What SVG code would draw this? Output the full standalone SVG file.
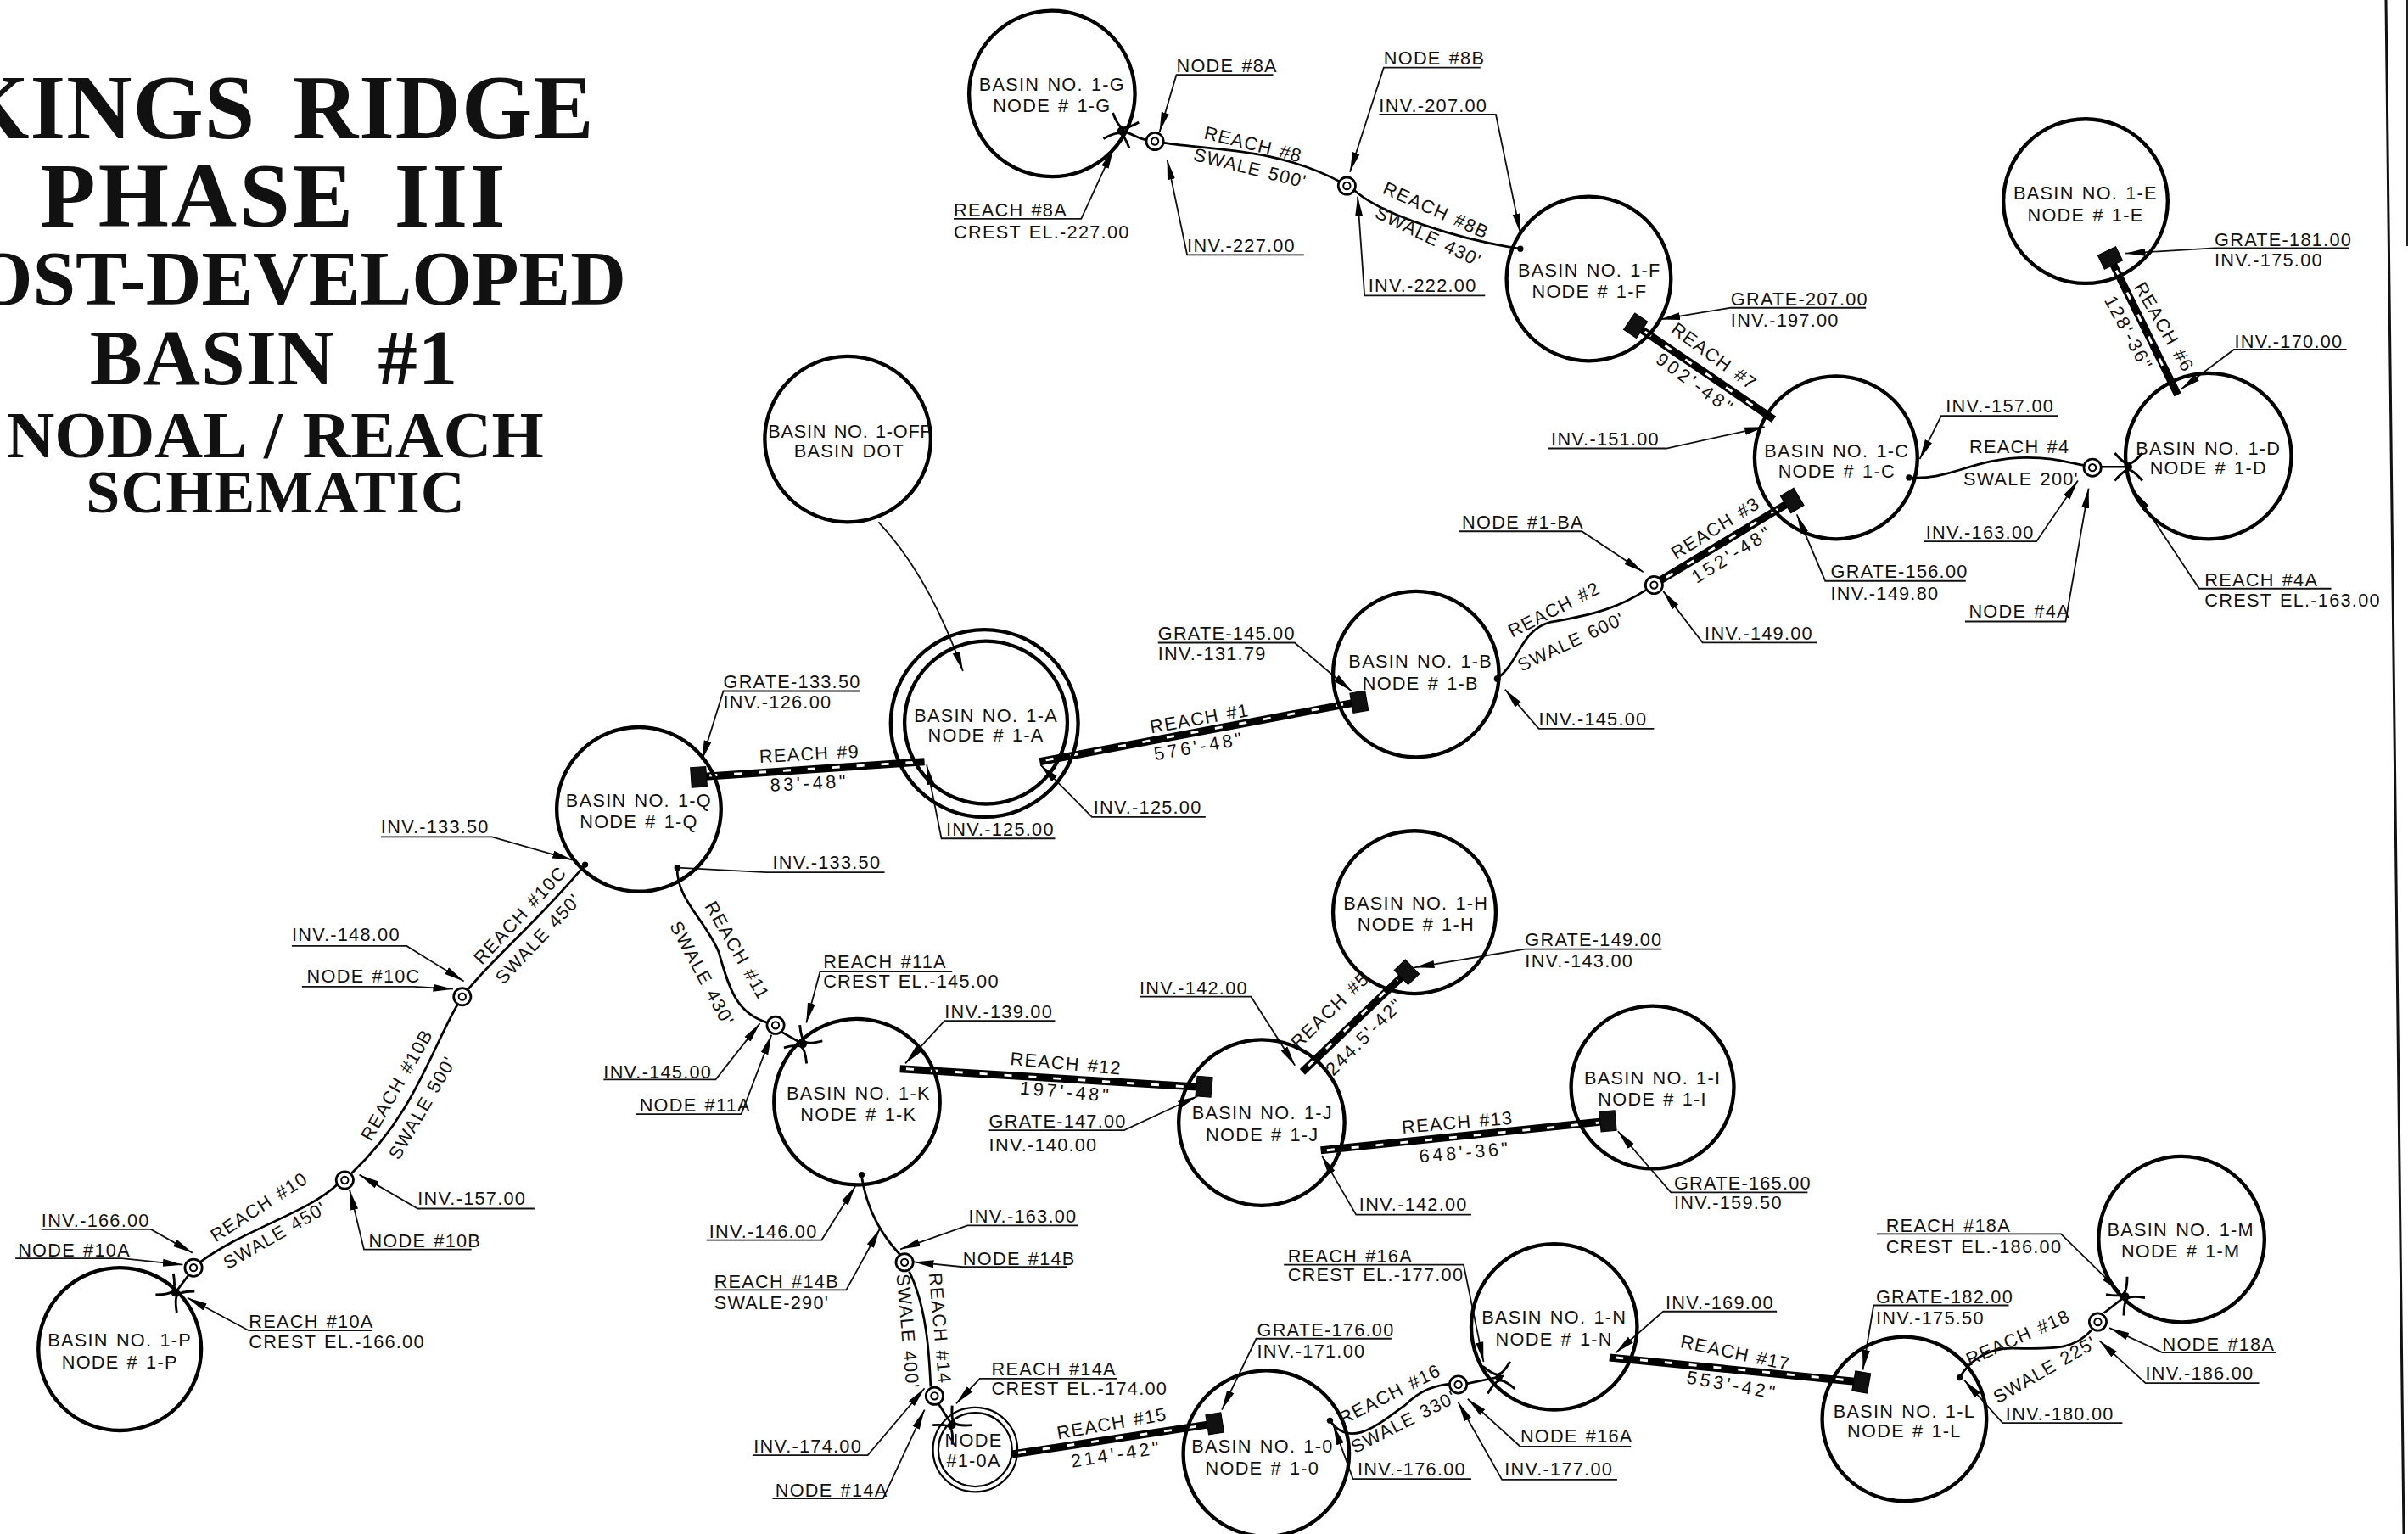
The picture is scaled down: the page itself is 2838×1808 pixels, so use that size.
<svg xmlns="http://www.w3.org/2000/svg" width="2838" height="1808" viewBox="0 0 2838 1808">
<style>
text{font-family:"Liberation Sans",Arial,sans-serif;fill:#111;font-size:12px;letter-spacing:.7px;word-spacing:1px}
.c{text-anchor:middle}
.w{letter-spacing:2px}
.ti{font-family:"Liberation Serif","Times New Roman",serif;font-weight:700;text-anchor:middle;letter-spacing:0}
.b{fill:none;stroke:#000;stroke-width:2.4}
.s{fill:none;stroke:#000;stroke-width:1.5}
.l{fill:none;stroke:#111;stroke-width:1;marker-end:url(#ah)}
.u{fill:none;stroke:#111;stroke-width:1}
.p{fill:none;stroke:#000;stroke-width:5}
.pd{fill:none;stroke:#fff;stroke-width:1.6;stroke-dasharray:5 11}
.g{fill:#111;stroke:#000;stroke-width:.6}
.n{fill:#fff;stroke:#000;stroke-width:1.5}
.d{fill:#000}
</style>
<defs>
<marker id="ah" markerUnits="userSpaceOnUse" markerWidth="14" markerHeight="7" refX="13" refY="3.5" orient="auto"><path d="M0,1 L13,3.5 L0,6 Z" fill="#000"/></marker>
<g id="weir"><path d="M-9,-9 Q-3,-2 0,-2 Q3,-2 9,-9 M-9,9 Q-3,2 0,2 Q3,2 9,9" fill="none" stroke="#000" stroke-width="1.6"/><circle r="2.4" fill="#000"/></g>
<g id="mn"><circle r="5.6" class="n"/><circle r="2.3" fill="#fff" stroke="#000" stroke-width="1.1"/></g>
<rect id="grate" x="-5" y="-6.5" width="10" height="13" class="g"/>
</defs>
<rect width="2838" height="1808" fill="#fff"/>
<g id="title">
<text class="ti" x="326" y="163" style="font-size:107px;word-spacing:16px;letter-spacing:1px">KINGS RIDGE</text>
<text class="ti" x="323" y="267" style="font-size:107px;word-spacing:16px;letter-spacing:3px">PHASE III</text>
<text class="ti" x="738" y="359" style="font-size:91px;word-spacing:0;text-anchor:end">POST-DEVELOPED</text>
<text class="ti" x="323" y="453" style="font-size:93px;word-spacing:26px;letter-spacing:1px">BASIN #1</text>
<text class="ti" x="324" y="539" style="font-size:78.7px;word-spacing:4px">NODAL / REACH</text>
<text class="ti" x="325" y="604" style="font-size:72px;word-spacing:0;letter-spacing:1px">SCHEMATIC</text>
</g>
<g transform="scale(1.81)">
<g id="connectors">
<path class="s" d="M730,85 C738,87 742,91 747,91"/>
<path class="s" d="M758,93 C790,98 830,96 872,118"/>
<path class="s" d="M882,124 C900,140 950,156 990,162"/>
<path class="s" d="M1243,311 C1270,313 1285,298 1320,298 C1338,298 1345,301 1357,303"/>
<path class="s" d="M1368,304 L1386,304"/>
<path class="s" d="M975,442 C990,430 990,410 1010,405 C1040,400 1055,395 1072,384"/>
<path class="s" d="M441,565 C440,585 460,600 468,620 C475,645 480,660 500,666"/>
<path class="s" d="M509,672 L523,680"/>
<path class="s" d="M381,563 C350,600 325,620 305,644"/>
<path class="s" d="M298,654 C280,685 270,725 229,764"/>
<path class="s" d="M220,771 C200,790 160,800 130,822"/>
<path class="s" d="M123,830 L114,842"/>
<path class="s" d="M561,766 C565,790 575,805 586,817"/>
<path class="s" d="M592,828 C603,850 605,880 606,903"/>
<path class="s" d="M611,914 L620,928"/>
<path class="s" d="M866,925 C880,945 900,925 915,915 C925,905 935,902 945,901"/>
<path class="s" d="M955,901 L979,896"/>
<path class="s" d="M1276,897 C1283,885 1295,878 1310,878 C1335,878 1350,880 1362,866"/>
<path class="s" d="M1370,855 L1384,844"/>
<path class="p" d="M1065,212 L1155,273"/><path class="pd" d="M1071,216 L1150,270"/>
<path class="p" d="M1081,378 L1167,326"/><path class="pd" d="M1085,376 L1160,330"/>
<path class="p" d="M1374,168 L1418,257"/><path class="pd" d="M1378,176 L1414,250"/>
<path class="p" d="M677,496 L885,457"/><path class="pd" d="M681,495 L878,458"/>
<path class="p" d="M455,506 L602,496"/><path class="pd" d="M462,505 L600,496"/>
<path class="p" d="M586,696 L784,708"/><path class="pd" d="M590,696 L778,708"/>
<path class="p" d="M848,698 L916,633"/><path class="pd" d="M852,694 L910,638"/>
<path class="p" d="M860,749 L1047,730"/><path class="pd" d="M864,749 L1041,731"/>
<path class="p" d="M659,947 L791,927"/><path class="pd" d="M663,946 L785,928"/>
<path class="p" d="M1048,884 L1212,900"/><path class="pd" d="M1052,884 L1206,899"/>
<path class="l" d="M829,48.7 L766,48.7 L755,86"/>
<path class="l" d="M964,44 L901,44 L879,112"/>
<path class="l" d="M898,74.5 L974,74.5 L990,152"/>
<path class="l" d="M621,142.5 L704,142.5 L725,97"/>
<path class="l" d="M849,166 L773,166 L760,104"/>
<path class="l" d="M967,192.5 L888.5,192.5 L884,128"/>
<path class="l" d="M1215,200.4 L1127,200.4 L1081,208"/>
<path class="l" d="M1008,292 L1085,292 L1149,278"/>
<path class="l" d="M1340,270.8 L1264,270.8 L1250,299"/>
<path class="l" d="M1253,352.6 L1326,352.6 L1353,313"/>
<path class="l" d="M1279.5,404.7 L1345,404.7 L1360,318"/>
<path class="l" d="M1280,378.3 L1188.5,378.3 L1170,335"/>
<path class="l" d="M1183,418.4 L1108.6,418.4 L1083,385"/>
<path class="l" d="M950,346 L1030,346 L1070,372.5"/>
<path class="l" d="M1529.5,161.5 L1442,161.5 L1384,165"/>
<path class="l" d="M1528,227.6 L1454.6,227.6 L1420,253.6"/>
<path class="l" d="M1518,383.3 L1432,383.3 L1390,320"/>
<path class="l" d="M754,418.5 L843,418.5 L880,450"/>
<path class="l" d="M785,532 L711,532 L677.5,498"/>
<path class="l" d="M687,546 L613,546 L603.4,498"/>
<path class="l" d="M560,450 L471,450 L457,495"/>
<path class="u" d="M576,568 L499,568 L441,565"/>
<path class="l" d="M572,340 Q605,375 627,437"/>
<path class="l" d="M248,545 L320.3,545 L372.7,560"/>
<path class="l" d="M190,616 L264.8,616 L302,639"/>
<path class="l" d="M196.6,642.5 L269.6,642.5 L295,644"/>
<path class="l" d="M348,787 L272,787 L234,765"/>
<path class="l" d="M307,813.6 L237,813.6 L227.7,775"/>
<path class="l" d="M27,800.5 L98.3,800.5 L125.3,815.8"/>
<path class="l" d="M10,819.4 L79.3,819.4 L119,823.6"/>
<path class="l" d="M242.6,866.4 L162,866.4 L122,845"/>
<path class="l" d="M393,703 L466,703 L494.8,666.4"/>
<path class="l" d="M414,725.5 L482.7,725.5 L502.4,673.8"/>
<path class="l" d="M620,632.6 L534,632.6 L525,666"/>
<path class="l" d="M687,664.7 L615,664.7 L589.5,692.5"/>
<path class="l" d="M742,649 L814.6,649 L843.2,693.8"/>
<path class="l" d="M644,736 L732,736 L779.7,713.8"/>
<path class="l" d="M958,791 L883,791 L860.6,752.4"/>
<path class="l" d="M460,807.5 L535,807.5 L557,772.4"/>
<path class="l" d="M702,798 L630,798 L586.2,813.5"/>
<path class="l" d="M695,825 L627,825 L595,821.8"/>
<path class="l" d="M465,840 L551,840 L573,800"/>
<path class="l" d="M727.5,897.7 L638,897.7 L622.6,914"/>
<path class="l" d="M490,947.6 L565,947.6 L602,904"/>
<path class="l" d="M503,975.7 L575,975.7 L602,918"/>
<path class="l" d="M906,871.7 L818,871.7 L795.6,918"/>
<path class="l" d="M836,823.5 L953,823.5 L966,886.8"/>
<path class="l" d="M958,963 L881,963 L868.2,928"/>
<path class="l" d="M1062,942 L990,942 L955.7,910.9"/>
<path class="l" d="M1053,963.5 L978,963.5 L949.4,913"/>
<path class="l" d="M1157,854 L1083,854 L1052,881"/>
<path class="l" d="M1308,850 L1220,850 L1213,892"/>
<path class="l" d="M1222,803.5 L1342,803.5 L1380,840.8"/>
<path class="l" d="M1482,880.7 L1408,880.7 L1373.5,864.7"/>
<path class="l" d="M1471,900.6 L1397,900.6 L1367,873"/>
<path class="l" d="M1382,926.6 L1304,926.6 L1279,898.7"/>
<path class="l" d="M1177,776.4 L1088,776.4 L1053.5,736.6"/>
<path class="l" d="M1082,618 L993,618 L921,630"/>
<path class="l" d="M1077,474.5 L1002,474.5 L980,449"/>
<use href="#mn" x="752" y="92"/><use href="#mn" x="877" y="121"/><use href="#mn" x="1362.5" y="304.5"/>
<use href="#mn" x="1077" y="381"/><use href="#mn" x="301" y="649"/><use href="#mn" x="224.5" y="768.5"/>
<use href="#mn" x="126" y="825.5"/><use href="#mn" x="505" y="667.6"/><use href="#mn" x="589" y="822"/>
<use href="#mn" x="608.5" y="909"/><use href="#mn" x="949.5" y="901.6"/><use href="#mn" x="1366" y="860.8"/>
<circle class="d" cx="990" cy="162" r="2"/><circle class="d" cx="1243" cy="311" r="2"/><circle class="d" cx="975" cy="442" r="2.2"/>
<circle class="d" cx="441" cy="565" r="2"/><circle class="d" cx="381" cy="563" r="2"/><circle class="d" cx="561" cy="765" r="2"/>
<circle class="d" cx="866" cy="925" r="2"/><circle class="d" cx="1276" cy="897" r="2"/>
<use href="#weir" transform="translate(730,85) rotate(20)"/>
<use href="#weir" transform="translate(1386,304)"/>
<use href="#weir" transform="translate(114,842) rotate(-50)"/>
<use href="#weir" transform="translate(523,680) rotate(35)"/>
<use href="#weir" transform="translate(620,928) rotate(45)"/>
<use href="#weir" transform="translate(976,897) rotate(-10)"/>
<use href="#weir" transform="translate(1384,844) rotate(-40)"/>
</g>
<g id="basin-1-G"><circle class="b" cx="685" cy="61" r="54"/><text class="c" x="685" y="59">BASIN NO. 1-G</text><text class="c" x="685" y="73">NODE # 1-G</text></g>
<g id="basin-1-F"><circle class="b" cx="1034.5" cy="181.5" r="53.5"/><text class="c" x="1035" y="180">BASIN NO. 1-F</text><text class="c" x="1035" y="194">NODE # 1-F</text><use href="#grate" transform="translate(1065,212) rotate(34)"/></g>
<g id="basin-1-C"><circle class="b" cx="1195.5" cy="298" r="53"/><text class="c" x="1196" y="298">BASIN NO. 1-C</text><text class="c" x="1196" y="311">NODE # 1-C</text><use href="#grate" transform="translate(1167,326) rotate(-31)"/></g>
<g id="basin-1-E"><circle class="b" cx="1358" cy="131" r="53.5"/><text class="c" x="1358" y="130">BASIN NO. 1-E</text><text class="c" x="1358" y="144">NODE # 1-E</text><use href="#grate" transform="translate(1374,168) rotate(64)"/></g>
<g id="basin-1-D"><circle class="b" cx="1438" cy="297" r="54"/><text class="c" x="1438" y="296">BASIN NO. 1-D</text><text class="c" x="1438" y="309">NODE # 1-D</text></g>
<g id="basin-1-B"><circle class="b" cx="922" cy="439" r="54"/><text class="c" x="925" y="435">BASIN NO. 1-B</text><text class="c" x="925" y="449">NODE # 1-B</text><use href="#grate" transform="translate(885,457) rotate(-10)"/></g>
<g id="basin-1-A"><circle class="b" cx="641" cy="471" r="61"/><circle class="b" cx="642" cy="470.5" r="53"/><text class="c" x="642" y="470">BASIN NO. 1-A</text><text class="c" x="642" y="483">NODE # 1-A</text></g>
<g id="basin-1-OFF"><circle class="b" cx="552" cy="286" r="54"/><text class="c" x="553.5" y="285" style="letter-spacing:.4px">BASIN NO. 1-OFF</text><text class="c" x="553" y="298">BASIN DOT</text></g>
<g id="basin-1-Q"><circle class="b" cx="416" cy="527" r="53.5"/><text class="c" x="416" y="525.5">BASIN NO. 1-Q</text><text class="c" x="416" y="539.5">NODE # 1-Q</text><use href="#grate" transform="translate(455,506) rotate(-4)"/></g>
<g id="basin-1-H"><circle class="b" cx="921" cy="594" r="53"/><text class="c" x="922" y="592">BASIN NO. 1-H</text><text class="c" x="922" y="606">NODE # 1-H</text><use href="#grate" transform="translate(916,633) rotate(-44)"/></g>
<g id="basin-1-I"><circle class="b" cx="1076" cy="708" r="53"/><text class="c" x="1076" y="706">BASIN NO. 1-I</text><text class="c" x="1076" y="720">NODE # 1-I</text><use href="#grate" transform="translate(1047,730) rotate(-5)"/></g>
<g id="basin-1-K"><circle class="b" cx="558" cy="717.5" r="54"/><text class="c" x="559" y="716">BASIN NO. 1-K</text><text class="c" x="559" y="730">NODE # 1-K</text></g>
<g id="basin-1-J"><circle class="b" cx="821.5" cy="731" r="54"/><text class="c" x="822" y="729">BASIN NO. 1-J</text><text class="c" x="822" y="743">NODE # 1-J</text><use href="#grate" transform="translate(784,707.6) rotate(5)"/></g>
<g id="basin-1-O"><circle class="b" cx="824.5" cy="946.5" r="54"/><text class="c" x="822" y="946">BASIN NO. 1-0</text><text class="c" x="822" y="960">NODE # 1-0</text><use href="#grate" transform="translate(791,927) rotate(-9)"/></g>
<g id="basin-1-0A"><circle class="b" style="stroke-width:1.2" cx="635" cy="944" r="27.5"/><circle class="b" style="stroke-width:1.2" cx="635" cy="944" r="24"/><text class="c" x="634" y="942">NODE</text><text class="c" x="634" y="955">#1-0A</text></g>
<g id="basin-1-N"><circle class="b" cx="1012" cy="864" r="54"/><text class="c" x="1012" y="862">BASIN NO. 1-N</text><text class="c" x="1012" y="876">NODE # 1-N</text></g>
<g id="basin-1-L"><circle class="b" cx="1240" cy="924" r="53.5"/><text class="c" x="1240" y="923">BASIN NO. 1-L</text><text class="c" x="1240" y="936">NODE # 1-L</text><use href="#grate" transform="translate(1212,900) rotate(10)"/></g>
<g id="basin-1-M"><circle class="b" cx="1420.5" cy="807" r="54"/><text class="c" x="1420" y="805">BASIN NO. 1-M</text><text class="c" x="1420" y="819">NODE # 1-M</text></g>
<g id="basin-1-P"><circle class="b" cx="78" cy="878.5" r="53"/><text class="c" x="78" y="877">BASIN NO. 1-P</text><text class="c" x="78" y="891">NODE # 1-P</text></g>
<g id="reach-labels">
<text class="c" y="4" transform="translate(816,94) rotate(14)">REACH #8</text>
<text class="c" y="4" transform="translate(814,109.5) rotate(14)">SWALE 500'</text>
<text class="c" y="4" transform="translate(935,137) rotate(24)">REACH #8B</text>
<text class="c" y="4" transform="translate(930,154) rotate(26)">SWALE 430'</text>
<text class="c" y="4" transform="translate(1116,232) rotate(36)">REACH #7</text>
<text class="c w" y="4" transform="translate(1104,250) rotate(36)">902'-48"</text>
<text class="c" y="4" transform="translate(1117,344) rotate(-32)">REACH #3</text>
<text class="c w" y="4" transform="translate(1128,361) rotate(-32)">152'-48"</text>
<text class="c" y="4" transform="translate(1012,397) rotate(-27)">REACH #2</text>
<text class="c" y="4" transform="translate(1023,418) rotate(-25)">SWALE 600'</text>
<text class="c" y="4" transform="translate(1315,291)">REACH #4</text>
<text class="c" y="4" transform="translate(1316,312)">SWALE 200'</text>
<text class="c" y="4" transform="translate(1409,213) rotate(60)">REACH #6</text>
<text class="c" y="4" transform="translate(1386,217) rotate(62)" style="letter-spacing:1.2px">128'-36"</text>
<text class="c" y="4" transform="translate(781,468) rotate(-10)">REACH #1</text>
<text class="c w" y="4" transform="translate(781,486) rotate(-10)">576'-48"</text>
<text class="c" y="4" transform="translate(527,491) rotate(-3)">REACH #9</text>
<text class="c w" y="4" transform="translate(527,510) rotate(-3)">83'-48"</text>
<text class="c" y="4" transform="translate(338.7,596) rotate(-47)">REACH #10C</text>
<text class="c" y="4" transform="translate(350.5,611.4) rotate(-47)">SWALE 450'</text>
<text class="c" y="4" transform="translate(258.5,706.5) rotate(-60)">REACH #10B</text>
<text class="c" y="4" transform="translate(275,721.4) rotate(-60)">SWALE 500'</text>
<text class="c" y="4" transform="translate(168.7,786) rotate(-33)">REACH #10</text>
<text class="c" y="4" transform="translate(179,804.5) rotate(-30)">SWALE 450'</text>
<text class="c" y="4" transform="translate(480,619) rotate(60)">REACH #11</text>
<text class="c" y="4" transform="translate(457,634) rotate(62)">SWALE 430'</text>
<text class="c" y="4" transform="translate(694,692.6) rotate(5)">REACH #12</text>
<text class="c w" y="4" transform="translate(694,711) rotate(5)">197'-48"</text>
<text class="c" y="4" transform="translate(866,658) rotate(-44)">REACH #5</text>
<text class="c w" y="4" transform="translate(888.5,675) rotate(-45)" style="letter-spacing:1.2px">244.5'-42"</text>
<text class="c" y="4" transform="translate(949,731) rotate(-5)">REACH #13</text>
<text class="c w" y="4" transform="translate(954,750.4) rotate(-5)">648'-36"</text>
<text class="c" y="4" transform="translate(724,927) rotate(-10)">REACH #15</text>
<text class="c w" y="4" transform="translate(727,947) rotate(-9)">214'-42"</text>
<text class="c" y="4" transform="translate(612,865) rotate(85)">REACH #14</text>
<text class="c" y="4" transform="translate(591,867) rotate(85)">SWALE 400'</text>
<text class="c" y="4" transform="translate(905,908) rotate(-27)">REACH #16</text>
<text class="c" y="4" transform="translate(914,926) rotate(-27)">SWALE 330'</text>
<text class="c" y="4" transform="translate(1130,881) rotate(12)">REACH #17</text>
<text class="c w" y="4" transform="translate(1128,902) rotate(10)">553'-42"</text>
<text class="c" y="4" transform="translate(1314,871) rotate(-24)">REACH #18</text>
<text class="c" y="4" transform="translate(1331.5,892) rotate(-30)">SWALE 225'</text>
</g>
<g id="callouts">
<text x="766" y="47">NODE #8A</text>
<text x="901" y="42">NODE #8B</text>
<text x="898" y="73">INV.-207.00</text>
<text x="621" y="141">REACH #8A</text>
<text x="621" y="155">CREST EL.-227.00</text>
<text x="773" y="164">INV.-227.00</text>
<text x="891" y="190">INV.-222.00</text>
<text x="1127" y="199">GRATE-207.00</text>
<text x="1127" y="212.5">INV.-197.00</text>
<text x="1010" y="290">INV.-151.00</text>
<text x="1267" y="268.5">INV.-157.00</text>
<text x="1254" y="351">INV.-163.00</text>
<text x="1282" y="402">NODE #4A</text>
<text x="1192" y="376.5">GRATE-156.00</text>
<text x="1192" y="390.5">INV.-149.80</text>
<text x="1110" y="416.7">INV.-149.00</text>
<text x="952" y="344">NODE #1-BA</text>
<text x="1442" y="160">GRATE-181.00</text>
<text x="1442" y="173.5">INV.-175.00</text>
<text x="1455" y="226.5">INV.-170.00</text>
<text x="1435.5" y="382">REACH #4A</text>
<text x="1435.5" y="395">CREST EL.-163.00</text>
<text x="754" y="416.6">GRATE-145.00</text>
<text x="754" y="430">INV.-131.79</text>
<text x="712" y="530">INV.-125.00</text>
<text x="616" y="544">INV.-125.00</text>
<text x="471" y="448">GRATE-133.50</text>
<text x="471" y="461.5">INV.-126.00</text>
<text x="503" y="566">INV.-133.50</text>
<text x="248" y="542.5">INV.-133.50</text>
<text x="190" y="612.5">INV.-148.00</text>
<text x="199.8" y="640">NODE #10C</text>
<text x="272" y="784.5">INV.-157.00</text>
<text x="240" y="812">NODE #10B</text>
<text x="27" y="799">INV.-166.00</text>
<text x="11.7" y="818">NODE #10A</text>
<text x="162" y="864.5">REACH #10A</text>
<text x="162" y="878">CREST EL.-166.00</text>
<text x="393" y="702">INV.-145.00</text>
<text x="416.4" y="724">NODE #11A</text>
<text x="536" y="630.5">REACH #11A</text>
<text x="536" y="643">CREST EL.-145.00</text>
<text x="615" y="663">INV.-139.00</text>
<text x="742" y="647.5">INV.-142.00</text>
<text x="644" y="734.5">GRATE-147.00</text>
<text x="644" y="749.5">INV.-140.00</text>
<text x="885" y="788.5">INV.-142.00</text>
<text x="461.7" y="806">INV.-146.00</text>
<text x="630.7" y="796.2">INV.-163.00</text>
<text x="627" y="823.5">NODE #14B</text>
<text x="465" y="838.5">REACH #14B</text>
<text x="465" y="852.5">SWALE-290'</text>
<text x="645.6" y="895.5">REACH #14A</text>
<text x="645.6" y="908.5">CREST EL.-174.00</text>
<text x="490.7" y="946">INV.-174.00</text>
<text x="504.8" y="974.5">NODE #14A</text>
<text x="818.5" y="870">GRATE-176.00</text>
<text x="818.5" y="884">INV.-171.00</text>
<text x="838.5" y="822">REACH #16A</text>
<text x="838.5" y="834">CREST EL.-177.00</text>
<text x="884" y="961">INV.-176.00</text>
<text x="990" y="939.5">NODE #16A</text>
<text x="979.7" y="961">INV.-177.00</text>
<text x="1084.5" y="852.6">INV.-169.00</text>
<text x="1221.5" y="848.5">GRATE-182.00</text>
<text x="1221.5" y="862.5">INV.-175.50</text>
<text x="1228" y="802">REACH #18A</text>
<text x="1228" y="816">CREST EL.-186.00</text>
<text x="1408" y="879.5">NODE #18A</text>
<text x="1397" y="898.5">INV.-186.00</text>
<text x="1306" y="925">INV.-180.00</text>
<text x="1090" y="774.5">GRATE-165.00</text>
<text x="1090" y="787.5">INV.-159.50</text>
<text x="993" y="616">GRATE-149.00</text>
<text x="993" y="630">INV.-143.00</text>
<text x="1002" y="472.5">INV.-145.00</text>
</g>
</g>
<path d="M2812,0 L2833,1808" stroke="#111" stroke-width="3" fill="none"/>
<path d="M2837,0 L2837,290" stroke="#222" stroke-width="2" fill="none"/>
</svg>
